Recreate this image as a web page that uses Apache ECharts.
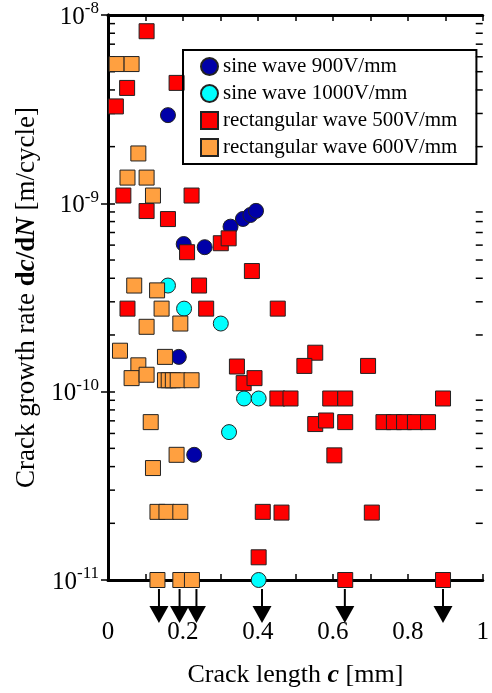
<!DOCTYPE html>
<html>
<head>
<meta charset="utf-8">
<title>Crack growth rate</title>
<script src="https://cdn.jsdelivr.net/npm/echarts@6/dist/echarts.min.js"></script>
<style>
  html, body { margin: 0; padding: 0; background: #fff; }
  #main { width: 492px; height: 693px; }
</style>
</head>
<body>
<div id="main"></div>
<script>
var seriesNames = ['sine wave 900V/mm', 'sine wave 1000V/mm', 'rectangular wave 500V/mm', 'rectangular wave 600V/mm'];

// [crack length c (mm), dc/dN (m/cycle)]
var sine900 = [
  [0.160, 2.94e-9], [0.202, 6.08e-10], [0.258, 5.85e-10], [0.327, 7.52e-10],
  [0.360, 8.26e-10], [0.380, 8.67e-10], [0.395, 9.12e-10], [0.189, 1.53e-10],
  [0.230, 4.62e-11]
];
var sine1000 = [
  [0.160, 3.66e-10], [0.203, 2.76e-10], [0.301, 2.30e-10], [0.363, 9.2e-11],
  [0.402, 9.2e-11], [0.323, 6.1e-11], [0.402, 1.0e-11]
];
var rect500 = [
  [0.103, 8.2e-9], [0.183, 4.36e-9], [0.051, 4.1e-9], [0.021, 3.27e-9],
  [0.041, 1.10e-9], [0.223, 1.10e-9], [0.103, 9.1e-10], [0.160, 8.25e-10],
  [0.211, 5.5e-10], [0.301, 6.14e-10], [0.322, 6.52e-10], [0.384, 4.37e-10],
  [0.243, 3.66e-10], [0.052, 2.76e-10], [0.262, 2.76e-10], [0.453, 2.76e-10],
  [0.553, 1.61e-10], [0.524, 1.37e-10], [0.694, 1.37e-10], [0.344, 1.36e-10],
  [0.362, 1.11e-10], [0.391, 1.18e-10], [0.452, 9.2e-11], [0.487, 9.2e-11],
  [0.593, 9.2e-11], [0.633, 9.2e-11], [0.894, 9.2e-11], [0.553, 6.73e-11],
  [0.582, 7.03e-11], [0.633, 6.89e-11], [0.735, 6.89e-11], [0.763, 6.89e-11],
  [0.790, 6.89e-11], [0.819, 6.89e-11], [0.854, 6.89e-11], [0.604, 4.59e-11],
  [0.413, 2.30e-11], [0.463, 2.28e-11], [0.704, 2.28e-11], [0.402, 1.32e-11],
  [0.633, 1.0e-11], [0.894, 1.0e-11]
];
var rect600 = [
  [0.023, 5.49e-9], [0.063, 5.49e-9], [0.081, 1.84e-9], [0.052, 1.37e-9],
  [0.103, 1.37e-9], [0.120, 1.10e-9], [0.070, 3.66e-10], [0.131, 3.45e-10],
  [0.143, 2.76e-10], [0.103, 2.21e-10], [0.193, 2.30e-10], [0.032, 1.65e-10],
  [0.152, 1.53e-10], [0.081, 1.38e-10], [0.063, 1.18e-10], [0.103, 1.23e-10],
  [0.152, 1.15e-10], [0.162, 1.15e-10], [0.173, 1.15e-10], [0.186, 1.15e-10],
  [0.223, 1.15e-10], [0.114, 6.89e-11], [0.183, 4.62e-11], [0.120, 3.93e-11],
  [0.132, 2.30e-11], [0.156, 2.30e-11], [0.193, 2.30e-11],
  [0.132, 1.0e-11], [0.193, 1.0e-11], [0.224, 1.0e-11]
];
// points below the measurable limit (arrows)
var arrowX = [0.136, 0.191, 0.236, 0.411, 0.632, 0.894];

var xTickLabels = ['0', '0.2', '0.4', '0.6', '0.8', '1'];
var yTickExps = ['-11', '-10', '-9', '-8'];
var yMin = 1e-11, yMax = 1e-8;

var minorTicks = [];
[1e-11, 1e-10, 1e-9].forEach(function (d) {
  for (var k = 2; k <= 9; k++) minorTicks.push([0, k * d]);
});

var font = 'Liberation Serif';
var myChart = echarts.init(document.getElementById('main'));

function scatter(name, data, symbol, color) {
  return {
    name: name, type: 'scatter', data: data, symbol: symbol, symbolSize: 15, clip: false,
    itemStyle: { color: color, borderColor: '#222', borderWidth: 1, opacity: 1 }
  };
}

var option = {
  backgroundColor: '#fff',
  animation: false,
  textStyle: { fontFamily: font, color: '#000' },
  grid: { left: 108, right: 8, top: 15, bottom: 110 },
  legend: {
    data: seriesNames, orient: 'vertical', left: 183, top: 50,
    itemWidth: 17, itemHeight: 17, itemGap: 6,
    borderColor: '#000', borderWidth: 2, padding: [6, 19, 6, 17],
    textStyle: { fontFamily: font, fontSize: 21, color: '#000' }
  },
  xAxis: [{
    type: 'value', min: 0, max: 1, interval: 0.1, position: 'bottom',
    name: '{n|Crack length }{c|c}{n| [mm]}', nameLocation: 'middle', nameGap: 82,
    nameTextStyle: { rich: {
      n: { fontFamily: font, fontSize: 26, color: '#000' },
      c: { fontFamily: font, fontSize: 26, fontWeight: 'bold', fontStyle: 'italic', color: '#000' }
    } },
    axisLine: { lineStyle: { color: '#000', width: 3 } },
    axisTick: { inside: true, length: 6, lineStyle: { color: '#000', width: 1.5 } },
    axisLabel: {
      margin: 40, fontFamily: font, fontSize: 25, color: '#000',
      formatter: function (v) {
        var i = Math.round(v * 10);
        return i % 2 === 0 ? xTickLabels[i / 2] : '';
      }
    },
    splitLine: { show: false }
  }, {
    type: 'value', min: 0, max: 1, interval: 0.1, position: 'top',
    axisLine: { lineStyle: { color: '#000', width: 3 } },
    axisTick: { inside: true, length: 6, lineStyle: { color: '#000', width: 1.5 } },
    axisLabel: { show: false },
    splitLine: { show: false }
  }],
  yAxis: [{
    type: 'log', logBase: 10, min: yMin, max: yMax, position: 'left',
    name: '{n|Crack growth rate }{b|d}{bi|c}{b|/d}{bi|N}{n| [m/cycle]}',
    nameLocation: 'middle', nameGap: 66, nameRotate: 90,
    nameTextStyle: { rich: {
      n: { fontFamily: font, fontSize: 27, color: '#000' },
      b: { fontFamily: font, fontSize: 27, fontWeight: 'bold', color: '#000' },
      bi: { fontFamily: font, fontSize: 27, fontWeight: 'bold', fontStyle: 'italic', color: '#000' }
    } },
    axisLine: { lineStyle: { color: '#000', width: 3 } },
    axisTick: { inside: true, length: 7, lineStyle: { color: '#000', width: 1.5 } },
    axisLabel: {
      margin: 9, color: '#000',
      formatter: function (v) {
        var e = Math.round(Math.log(v) / Math.LN10);
        return '{b|10}{s|' + yTickExps[e + 11] + '}';
      },
      rich: {
        b: { fontFamily: font, fontSize: 25, color: '#000', verticalAlign: 'bottom' },
        s: { fontFamily: font, fontSize: 17, color: '#000', verticalAlign: 'top', padding: [0, 0, 12, 0] }
      }
    },
    splitLine: { show: false }
  }, {
    type: 'log', logBase: 10, min: yMin, max: yMax, position: 'right',
    axisLine: { lineStyle: { color: '#000', width: 3 } },
    axisTick: { inside: true, length: 7, lineStyle: { color: '#000', width: 1.5 } },
    axisLabel: { show: false },
    splitLine: { show: false }
  }],
  series: [
    {
      type: 'custom', silent: true, clip: false, data: minorTicks,
      renderItem: function (params, api) {
        var v = api.value(1);
        var pl = api.coord([0, v]), pr = api.coord([1, v]);
        var st = { stroke: '#000', lineWidth: 1.5 };
        return { type: 'group', children: [
          { type: 'line', shape: { x1: pl[0], y1: pl[1], x2: pl[0] + 7, y2: pl[1] }, style: st },
          { type: 'line', shape: { x1: pr[0] - 7, y1: pr[1], x2: pr[0], y2: pr[1] }, style: st }
        ] };
      }
    },
    scatter(seriesNames[0], sine900, 'circle', '#0000a8'),
    scatter(seriesNames[1], sine1000, 'circle', '#00ffff'),
    scatter(seriesNames[2], rect500, 'rect', '#ff0000'),
    scatter(seriesNames[3], rect600, 'rect', '#ffa040'),
    {
      type: 'custom', silent: true, clip: false, z: 3,
      data: arrowX.map(function (x) { return [x, yMin]; }),
      renderItem: function (params, api) {
        var p = api.coord([api.value(0), api.value(1)]);
        return { type: 'group', children: [
          { type: 'line', shape: { x1: p[0], y1: p[1] + 9, x2: p[0], y2: p[1] + 28 },
            style: { stroke: '#000', lineWidth: 2 } },
          { type: 'polygon', shape: { points: [[p[0] - 9.5, p[1] + 26], [p[0] + 9.5, p[1] + 26], [p[0], p[1] + 43]] },
            style: { fill: '#000' } }
        ] };
      }
    }
  ]
};
myChart.setOption(option);
</script>
</body>
</html>
